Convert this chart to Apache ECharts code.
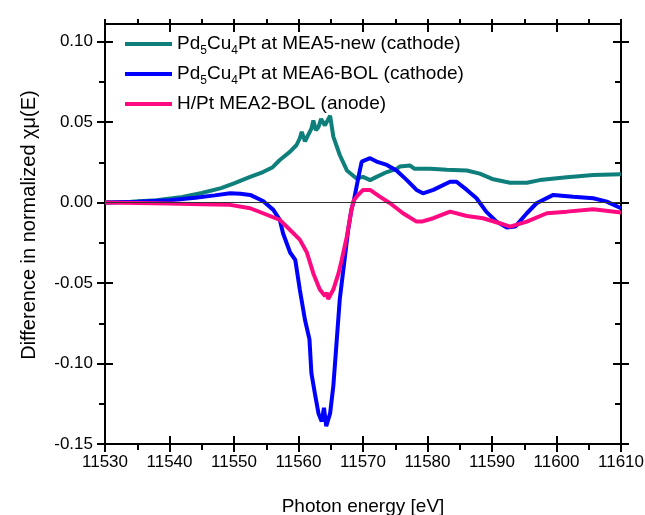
<!DOCTYPE html>
<html>
<head>
<meta charset="utf-8">
<script src="https://cdn.jsdelivr.net/npm/echarts@6/dist/echarts.min.js"></script>
<style>html,body{margin:0;padding:0;background:#fff;}#c{width:645px;height:515px;}</style>
</head>
<body>
<div id="c"></div>
<script>
// ---- data ----
const seriesNames = ['Pd5Cu4Pt at MEA5-new (cathode)', 'Pd5Cu4Pt at MEA6-BOL (cathode)', 'H/Pt MEA2-BOL (anode)'];

const energyTeal = [11530, 11534, 11538, 11542, 11545, 11548, 11550, 11552.5, 11554.5, 11556, 11557.1, 11558.7, 11559.7, 11560.2, 11560.5, 11561.0, 11561.3, 11562.0, 11562.3, 11562.7, 11563.1, 11563.5, 11563.8, 11564.1, 11564.4, 11564.9, 11565.4, 11566.4, 11567.5, 11569.0, 11570.0, 11571.1, 11572.1, 11573.7, 11575.2, 11575.7, 11577.3, 11578.0, 11580.4, 11583.0, 11586.1, 11588.1, 11590.2, 11592.8, 11595.4, 11597.4, 11601.6, 11605.7, 11610];
const valuesTeal = [0.000, 0.0005, 0.0015, 0.0035, 0.006, 0.009, 0.012, 0.016, 0.019, 0.022, 0.0265, 0.0317, 0.0358, 0.040, 0.044, 0.038, 0.039, 0.046, 0.051, 0.045, 0.047, 0.052, 0.053, 0.048, 0.049, 0.054, 0.041, 0.0296, 0.020, 0.015, 0.016, 0.014, 0.016, 0.019, 0.021, 0.0224, 0.023, 0.021, 0.021, 0.0205, 0.020, 0.018, 0.0145, 0.0124, 0.0124, 0.014, 0.0158, 0.0172, 0.0176];

const energyBlue = [11530, 11535, 11540, 11544, 11547, 11549.4, 11551, 11552.5, 11554.5, 11556.1, 11557.1, 11557.6, 11558.7, 11559.5, 11560.2, 11561.0, 11561.7, 11562.0, 11562.6, 11563.1, 11563.6, 11563.95, 11564.3, 11564.9, 11565.4, 11565.9, 11566.4, 11567.2, 11567.7, 11568.2, 11568.6, 11569.3, 11569.8, 11571.1, 11572.1, 11573.7, 11575.2, 11576.8, 11578.3, 11579.3, 11580.9, 11583.5, 11584.5, 11586.1, 11587.6, 11589.1, 11590.7, 11592.3, 11593.6, 11595.4, 11596.9, 11599.5, 11602.6, 11605.7, 11607.8, 11610];
const valuesBlue = [0.000, 0.0005, 0.0015, 0.003, 0.0045, 0.0058, 0.0055, 0.0048, 0.001, -0.0045, -0.0107, -0.019, -0.031, -0.0356, -0.054, -0.0728, -0.085, -0.106, -0.120, -0.131, -0.136, -0.1275, -0.139, -0.131, -0.114, -0.087, -0.060, -0.0335, -0.017, -0.0045, 0.0017, 0.016, 0.0255, 0.0276, 0.0255, 0.0234, 0.020, 0.014, 0.0079, 0.0058, 0.0079, 0.013, 0.013, 0.0079, 0.0027, -0.0056, -0.0118, -0.0155, -0.0149, -0.0066, -0.0004, 0.0048, 0.0037, 0.0027, 0.0006, -0.0035];

const energyPink = [11530, 11535, 11540, 11545, 11549.4, 11552.5, 11554.5, 11557.1, 11558.7, 11560.2, 11561.3, 11562.3, 11563.3, 11564.1, 11564.4, 11564.6, 11565.4, 11566.2, 11566.7, 11567.5, 11568.2, 11568.6, 11569.0, 11570.0, 11571.1, 11572.6, 11574.2, 11576.2, 11578.3, 11579.1, 11580.9, 11583.5, 11586.1, 11588.6, 11591.2, 11592.8, 11595.4, 11598.5, 11601.6, 11605.7, 11610];
const valuesPink = [0.000, -0.0002, -0.0005, -0.001, -0.0014, -0.0035, -0.0066, -0.0107, -0.017, -0.023, -0.031, -0.044, -0.054, -0.058, -0.056, -0.060, -0.054, -0.044, -0.0356, -0.021, -0.0045, 0.0017, 0.0037, 0.0079, 0.0079, 0.0037, -0.0004, -0.0066, -0.0118, -0.0118, -0.0097, -0.0056, -0.0083, -0.0097, -0.0128, -0.0149, -0.0118, -0.0066, -0.0056, -0.0041, -0.0062];

const yMajorTicks = [-0.15, -0.10, -0.05, 0.00, 0.05, 0.10];
const yMinorTicks = [-0.125, -0.075, -0.025, 0.025, 0.075];
const xTickStep = 10;

// ---- chart ----
const X_MIN = 11530, X_MAX = 11610, Y_MIN = -0.15, Y_MAX = 0.111;
const pair = (xs, ys) => xs.map((x, i) => [x, ys[i]]);
const FONT = 'Liberation Sans, Arial, sans-serif';
const LINE_ON = { show: true, onZero: false, lineStyle: { color: '#000', width: 2 } };
const LINE_OFF = { show: false, onZero: false };

function xAx(opts) {
  return Object.assign({
    type: 'value', min: X_MIN, max: X_MAX, interval: xTickStep,
    axisLine: LINE_OFF,
    axisTick: { show: true, length: 8, lineStyle: { color: '#000', width: 2 } },
    axisLabel: { show: false },
    splitLine: { show: false }
  }, opts);
}
function yAx(opts) {
  return Object.assign({
    type: 'value', min: Y_MIN, max: Y_MAX,
    axisLine: LINE_OFF,
    axisTick: { show: true, length: 8, customValues: yMajorTicks, lineStyle: { color: '#000', width: 2 } },
    axisLabel: { show: false },
    splitLine: { show: false }
  }, opts);
}

const nameRich = {
  n: { fontSize: 19, fontFamily: FONT, color: '#000', lineHeight: 20, verticalAlign: 'top' },
  s: { fontSize: 12, fontFamily: FONT, color: '#000', lineHeight: 12, verticalAlign: 'top', padding: [11, 0, 0, 0] }
};
function legendFmt(name) {
  if (name.indexOf('Pd5Cu4') === 0) {
    return '{n|Pd}{s|5}{n|Cu}{s|4}{n|' + name.slice(6) + '}';
  }
  return '{n|' + name + '}';
}

const chart = echarts.init(document.getElementById('c'), null, { renderer: 'canvas' });
chart.setOption({
  animation: false,
  backgroundColor: '#fff',
  grid: { left: 105, right: 24, top: 24, bottom: 71, outerBoundsMode: 'none', containLabel: false },
  legend: {
    orient: 'vertical', left: 125, top: 34, itemGap: 7, padding: 0,
    itemWidth: 47, itemHeight: 4, icon: 'rect',
    data: seriesNames,
    formatter: legendFmt,
    textStyle: { rich: nameRich, fontSize: 19, fontFamily: FONT }
  },
  xAxis: [
    xAx({ position: 'bottom', axisLine: LINE_ON,
      axisTick: { show: true, length: 8, lineStyle: { color: '#000', width: 2 } },
      minorTick: { show: true, splitNumber: 2, length: 6, lineStyle: { color: '#000', width: 2 } },
      axisLabel: { show: true, color: '#000', fontSize: 17, fontFamily: FONT, margin: 10, formatter: v => String(v) },
      name: 'Photon energy [eV]', nameLocation: 'middle', nameGap: 53,
      nameTextStyle: { color: '#000', fontSize: 19, fontFamily: FONT } }),
    xAx({ position: 'bottom', axisTick: { show: true, inside: true, length: 8, lineStyle: { color: '#000', width: 2 } } }),
    xAx({ position: 'top', axisLine: LINE_ON,
      axisTick: { show: true, inside: true, length: 8, lineStyle: { color: '#000', width: 2 } } }),
    xAx({ position: 'top', axisTick: { show: true, length: 5, lineStyle: { color: '#000', width: 2 } },
      minorTick: { show: true, splitNumber: 2, length: 5, lineStyle: { color: '#000', width: 2 } } })
  ],
  yAxis: [
    yAx({ position: 'left', axisLine: LINE_ON,
      axisLabel: { show: true, customValues: yMajorTicks, color: '#000', fontSize: 17, fontFamily: FONT, margin: 12,
        formatter: v => v.toFixed(2) },
      name: 'Difference in normalized \u03c7\u03bc(E)', nameLocation: 'middle', nameGap: 66,
      nameTextStyle: { color: '#000', fontSize: 20, fontFamily: FONT, padding: [0, 0, 0, 18] } }),
    yAx({ position: 'left', axisTick: { show: true, inside: true, length: 8, customValues: yMajorTicks, lineStyle: { color: '#000', width: 2 } } }),
    yAx({ position: 'left', axisTick: { show: true, length: 6, customValues: yMinorTicks, lineStyle: { color: '#000', width: 2 } } }),
    yAx({ position: 'right', axisLine: LINE_ON }),
    yAx({ position: 'right', axisTick: { show: true, inside: true, length: 8, customValues: yMajorTicks, lineStyle: { color: '#000', width: 2 } } }),
    yAx({ position: 'right', axisTick: { show: true, inside: true, length: 6, customValues: yMinorTicks, lineStyle: { color: '#000', width: 2 } } })
  ],
  series: [
    { name: seriesNames[0], type: 'line', data: pair(energyTeal, valuesTeal), showSymbol: false, symbol: 'none',
      lineStyle: { color: '#0f7f7c', width: 4 }, itemStyle: { color: '#0f7f7c' }, z: 2,
      markLine: { silent: true, symbol: ['none', 'none'], label: { show: false },
        lineStyle: { color: '#333', width: 1, type: 'solid' }, data: [{ yAxis: 0 }] } },
    { name: seriesNames[1], type: 'line', data: pair(energyBlue, valuesBlue), showSymbol: false, symbol: 'none',
      lineStyle: { color: '#0000ff', width: 4 }, itemStyle: { color: '#0000ff' }, z: 3 },
    { name: seriesNames[2], type: 'line', data: pair(energyPink, valuesPink), showSymbol: false, symbol: 'none',
      lineStyle: { color: '#ff0a80', width: 4 }, itemStyle: { color: '#ff0a80' }, z: 4 }
  ]
});
</script>
</body>
</html>
